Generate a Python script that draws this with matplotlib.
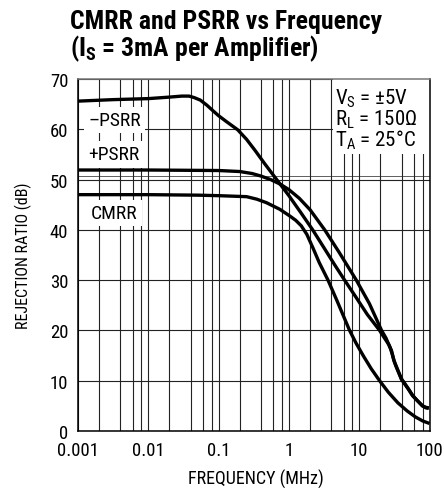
import matplotlib.pyplot as plt
from matplotlib.patches import Rectangle

# frequency (MHz) / rejection ratio (dB)
f_mpsrr = [0.001, 0.0032, 0.01, 0.02, 0.03, 0.038, 0.045, 0.055, 0.068, 0.083, 0.1, 0.13,
           0.187, 0.25, 0.33, 0.45, 0.67, 1.0, 1.5, 2.18, 3.2, 4.5, 6.2, 9.0, 13.0, 19.5,
           21.9, 26.3, 28.8, 30.9, 33.1, 39.8, 50.1, 57.5, 67.6, 79.4, 89.1, 97.7]
mpsrr = [65.6, 65.9, 66.1, 66.4, 66.6, 66.6, 66.3, 65.8, 64.8, 63.7, 62.7, 61.5,
         59.9, 58.0, 55.8, 53.2, 50.0, 46.8, 43.3, 40.0, 36.3, 33.0, 30.0, 26.6, 23.2, 20.0,
         18.9, 17.2, 16.0, 14.2, 13.0, 10.3, 8.3, 7.0, 6.0, 5.0, 4.6, 4.5]

f_ppsrr = [0.001, 0.01, 0.1, 0.2, 0.3, 0.4, 0.55, 0.75, 1.0, 1.4, 2.0, 3.23, 5.2, 9.1, 14.0,
           20.8, 24.0, 27.5, 29.5, 31.6, 39.8, 50.1, 57.5, 67.6, 79.4, 89.1, 97.7]
ppsrr = [51.9, 51.9, 51.8, 51.6, 51.2, 50.7, 50.0, 49.1, 48.0, 46.3, 44.0, 40.0, 35.5, 30.0, 25.3,
         20.0, 18.5, 16.6, 15.3, 13.8, 10.4, 8.4, 7.1, 6.0, 5.0, 4.7, 4.6]

f_cmrr = [0.001, 0.01, 0.05, 0.1, 0.25, 0.35, 0.48, 0.74, 1.02, 1.25, 1.5, 1.8, 2.2, 2.7,
          3.6, 4.8, 6.0, 7.3, 9.0, 11.5, 14.8, 19.5, 26.0, 35.5, 48.0, 63.0, 80.0, 100.0]
cmrr = [47.0, 47.0, 46.9, 46.8, 46.6, 46.1, 45.4, 44.1, 42.8, 41.9, 40.8, 39.1, 36.4, 33.5,
        30.0, 26.0, 22.8, 20.0, 17.5, 14.9, 12.4, 10.0, 7.7, 5.6, 4.0, 2.8, 2.0, 1.5]

x_major = [0.001, 0.01, 0.1, 1, 10, 100]
x_labels = ["0.001", "0.01", "0.1", "1", "10", "100"]
x_minor = [m * d for d in [0.001, 0.01, 0.1, 1, 10] for m in (2, 4, 6, 8)]
y_ticks = list(range(0, 71, 10))

plt.rcParams['font.family'] = ['Liberation Sans Narrow', 'Roboto Condensed', 'Liberation Sans', 'DejaVu Sans']
plt.rcParams['font.stretch'] = 'condensed'

W, H = 444, 489
fig = plt.figure(figsize=(W / 100, H / 100), dpi=100)
ax = fig.add_axes([78 / W, (H - 432) / H, 351.5 / W, 352 / H])

ax.set_xscale("log")
ax.set_xlim(0.001, 100)
ax.set_ylim(0, 70)
ax.set_xticks(x_major)
ax.set_xticklabels(x_labels)
ax.set_xticks(x_minor, minor=True)
ax.set_xticklabels([], minor=True)
ax.set_yticks(y_ticks)
ax.tick_params(which="both", length=0, labelsize=13.5)
ax.tick_params(axis="x", pad=7)
ax.tick_params(axis="y", pad=7)

ax.set_axisbelow(True)
ax.grid(True, which="both", color="#222222", linewidth=0.8)
ax.axhline(50.8, color="#444444", linewidth=0.6, zorder=0.5)
for s in ax.spines.values():
    s.set_linewidth(1.1)
    s.set_color("black")
ax.spines["top"].set_color("#777777")

for fx, v in [(f_mpsrr, mpsrr), (f_ppsrr, ppsrr), (f_cmrr, cmrr)]:
    ax.plot(fx, v, color="black", linewidth=2.4, solid_joinstyle="round",
            solid_capstyle="butt", zorder=4, clip_on=False)

box = dict(facecolor="white", edgecolor="none", pad=3.0)
ax.text(0.00139, 61.9, "\u2013PSRR", fontsize=14, va="center", ha="left", bbox=box, zorder=3)
ax.text(0.00139, 55.0, "+PSRR", fontsize=14, va="center", ha="left", bbox=box, zorder=3)
ax.text(0.00153, 43.4, "CMRR", fontsize=14, va="center", ha="left", bbox=box, zorder=3)

# white panel behind the test conditions
ax.add_patch(Rectangle((0.7255, 0.787), 0.2745, 0.213, transform=ax.transAxes,
                       facecolor="white", edgecolor="none", zorder=2))
ax.text(4.6, 68.6, "V$_\\mathregular{S}$ = \u00b15V\nR$_\\mathregular{L}$ = 150\u03a9\nT$_\\mathregular{A}$ = 25\u00b0C",
        fontsize=15, va="top", ha="left", linespacing=0.9, zorder=3)

fig.text(70 / W, 1 - 9.5 / H, "CMRR and PSRR vs Frequency", fontsize=18.5,
         fontweight="bold", ha="left", va="top")
fig.text(70 / W, 1 - 33 / H, "(I$_\\mathregular{S}$ = 3mA per Amplifier)", fontsize=18.5,
         fontweight="bold", ha="left", va="top")
fig.text(256 / W, 1 - 479 / H, "FREQUENCY (MHz)", fontsize=13, ha="center", va="center")
fig.text(23.5 / W, 1 - 256 / H, "REJECTION RATIO (dB)", fontsize=11.5, rotation=90,
         ha="center", va="center")

fig.savefig("out.png", dpi=100)
